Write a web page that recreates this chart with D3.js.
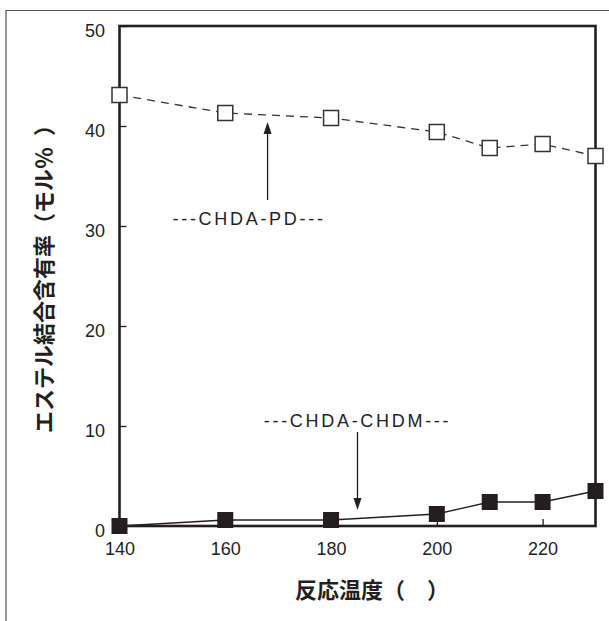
<!DOCTYPE html>
<html>
<head>
<meta charset="utf-8">
<script src="https://cdn.jsdelivr.net/npm/d3@7/dist/d3.min.js"></script>
<style>
  html, body { margin: 0; padding: 0; background: #fff; }
  svg { display: block; }
  .num { font-family: "Liberation Sans", Arial, sans-serif; font-size: 18px; fill: #231f20; }
  .jp { font-family: "Noto Sans CJK JP", sans-serif; font-weight: bold; fill: #231f20; }
</style>
</head>
<body>
<script>
// Reaction temperature (°C) and ester bond content (mol%)
const temperatures = [140, 160, 180, 200, 210, 220, 230];
const chdaPd   = [43.1, 41.3, 40.8, 39.4, 37.8, 38.2, 37.0];
const chdaChdm = [0.0, 0.6, 0.6, 1.2, 2.4, 2.4, 3.5];
const xTicks = [140, 160, 180, 200, 220];
const yTicks = [0, 10, 20, 30, 40, 50];

// Annotation anchors in data units
const pdNote   = { label: "---CHDA-PD---",   x: 168, tail: 32.6, tip: 40.4, textX: 164.5, textY: 30.1 };
const chdmNote = { label: "---CHDA-CHDM---", x: 185, tail: 9.4,  tip: 1.6,  textX: 185,   textY: 9.9 };

const W = 609, H = 621;
const plotL = 119.5, plotR = 595.5, plotT = 26, plotB = 526;

const svg = d3.select("body").append("svg").attr("width", W).attr("height", H);

// outer border of the figure panel
svg.append("path")
  .attr("d", `M6,${H + 2} L6,10.5 L${W + 2},10.5`)
  .attr("fill", "none").attr("stroke", "#555").attr("stroke-width", 1.2);

const x = d3.scaleLinear().domain([140, 230]).range([plotL, plotR]);
const y = d3.scaleLinear().domain([0, 50]).range([plotB, plotT]);

// axes with inward ticks
const gx = svg.append("g").attr("transform", `translate(0,${plotB})`)
  .call(d3.axisBottom(x).tickValues(xTicks).tickSizeInner(-7).tickSizeOuter(0).tickPadding(16));
gx.select(".domain").remove();
gx.selectAll(".tick line").attr("stroke", "#231f20").attr("stroke-width", 1.3);
gx.selectAll(".tick text").attr("class", "num").attr("font-size", null).attr("font-family", null).attr("fill", null);
gx.attr("font-size", null).attr("font-family", null);

const gy = svg.append("g").attr("transform", `translate(${plotL},0)`)
  .call(d3.axisLeft(y).tickValues(yTicks).tickSizeInner(-7).tickSizeOuter(0).tickPadding(14.5));
gy.select(".domain").remove();
gy.selectAll(".tick line").attr("stroke", "#231f20").attr("stroke-width", 1.3);
gy.selectAll(".tick text").attr("class", "num").attr("dy", "0.57em")
  .attr("font-size", null).attr("font-family", null).attr("fill", null);
gy.attr("font-size", null).attr("font-family", null);

// plot frame
svg.append("rect")
  .attr("x", plotL).attr("y", plotT).attr("width", plotR - plotL).attr("height", plotB - plotT)
  .attr("fill", "none").attr("stroke", "#231f20").attr("stroke-width", 2.6);

const line = d3.line().x((d, i) => x(temperatures[i])).y(d => y(d));

// CHDA-PD: dashed line with open squares
svg.append("path").datum(chdaPd).attr("d", line)
  .attr("fill", "none").attr("stroke", "#333").attr("stroke-width", 1.3)
  .attr("stroke-dasharray", "8,6");

// CHDA-CHDM: solid line with filled squares
svg.append("path").datum(chdaChdm).attr("d", line)
  .attr("fill", "none").attr("stroke", "#231f20").attr("stroke-width", 1.3);

const msOpen = 15, msFill = 16;
svg.selectAll("rect.pd").data(chdaPd).enter().append("rect").attr("class", "pd")
  .attr("x", (d, i) => x(temperatures[i]) - msOpen / 2)
  .attr("y", d => y(d) - msOpen / 2)
  .attr("width", msOpen).attr("height", msOpen)
  .attr("fill", "#fff").attr("stroke", "#333").attr("stroke-width", 1.5);

svg.selectAll("rect.chdm").data(chdaChdm).enter().append("rect").attr("class", "chdm")
  .attr("x", (d, i) => x(temperatures[i]) - msFill / 2)
  .attr("y", d => y(d) - msFill / 2)
  .attr("width", msFill).attr("height", msFill)
  .attr("fill", "#231f20");

// annotation arrows with their labels
function arrow(note) {
  const ax = x(note.x), ty = y(note.tip), by = y(note.tail);
  const dir = by > ty ? 1 : -1;   // +1 when the arrow points up
  const headLen = 12, headW = 4;
  svg.append("line")
    .attr("x1", ax).attr("x2", ax).attr("y1", by).attr("y2", ty + dir * headLen)
    .attr("stroke", "#231f20").attr("stroke-width", 1.3);
  svg.append("path")
    .attr("d", `M${ax},${ty} L${ax - headW},${ty + dir * headLen} L${ax + headW},${ty + dir * headLen} Z`)
    .attr("fill", "#231f20");
  svg.append("text").attr("class", "num")
    .attr("x", x(note.textX)).attr("y", y(note.textY))
    .attr("text-anchor", "middle").attr("letter-spacing", "2.7px")
    .text(note.label);
}
arrow(pdNote);
arrow(chdmNote);

// axis titles
svg.append("text").attr("class", "jp")
  .attr("x", 295).attr("y", 598)
  .attr("text-anchor", "start").attr("font-size", 22)
  .text("反応温度（　）");

const yTitle = svg.append("text").attr("class", "jp")
  .attr("transform", "translate(52,433) rotate(-90)")
  .attr("text-anchor", "start").attr("font-size", 22);
yTitle.append("tspan").text("エステル結合含有率（モル％");
yTitle.append("tspan").attr("dx", 11).text("）");
</script>
</body>
</html>
